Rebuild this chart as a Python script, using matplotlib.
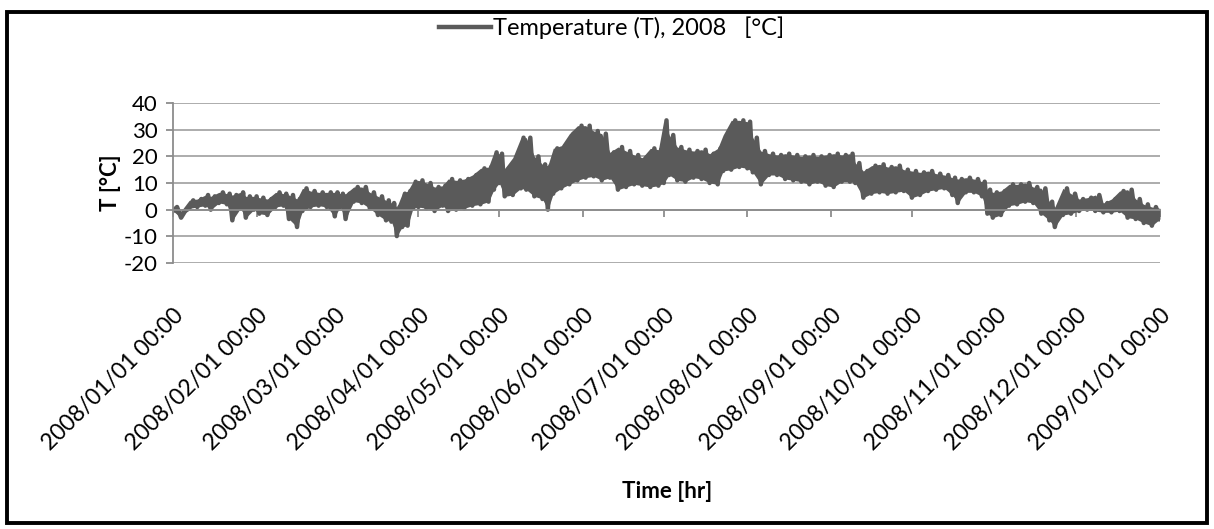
import numpy as np
import matplotlib.pyplot as plt
from matplotlib.patches import Rectangle
import datetime as dt

plt.rcParams['font.family'] = ['Lato', 'DejaVu Sans']
plt.rcParams['axes.unicode_minus'] = False

# day of year (0 = 2008/01/01 00:00), read off the chart as rough highs / lows
days = [0, 3, 6, 9, 12, 14, 17, 20, 22, 25, 27, 30, 32, 35, 38, 41, 43, 46, 48, 51, 54, 57, 60,
        62, 64, 67, 70, 73, 76, 79, 81, 83, 85, 87, 89, 91, 94, 97, 100, 102, 105, 108, 111, 114, 117, 119,
        121, 123, 126, 129, 131, 134, 137, 139, 141, 144, 147, 150, 153, 156, 159, 162, 165, 168, 171, 174, 177, 180, 182,
        184, 187, 190, 193, 196, 199, 202, 204, 207, 210, 213, 215, 218, 221, 224, 227, 230, 233, 236, 239, 242,
        245, 248, 251, 253, 256, 259, 262, 265, 268, 271, 274, 277, 280, 283, 286, 289, 291, 294, 297, 300, 302,
        304, 307, 310, 313, 316, 319, 322, 325, 327, 330, 333, 336, 339, 342, 345, 348, 351, 354, 357, 360, 363, 366]
t_high = [1.0, -0.5, 3.5, 4.0, 5.5, 5.0, 6.5, 6.0, 5.5, 6.5, 5.0, 5.0, 4.5, 4.0, 6.5, 6.0, 5.5, 4.0, 8.0, 7.0, 6.5, 6.5, 6.5,
          6.0, 6.0, 8.5, 8.5, 6.5, 5.0, 3.5, 2.5, 1.0, 6.0, 7.0, 10.5, 11.0, 10.0, 8.5, 9.0, 11.5, 11.0, 11.5, 13.0, 15.5, 16.0, 21.5,
          21.0, 15.5, 19.5, 27.0, 27.0, 20.0, 17.0, 16.5, 23.0, 24.0, 28.5, 31.5, 31.5, 29.5, 28.5, 21.5, 23.5, 22.0, 20.5, 19.5, 23.0, 22.5, 33.5,
          28.0, 23.5, 22.5, 22.0, 22.5, 21.0, 23.0, 28.0, 33.5, 33.5, 33.0, 27.0, 22.0, 21.0, 20.5, 21.0, 20.5, 20.0, 20.5, 20.0, 20.5,
          21.0, 20.5, 21.0, 17.5, 14.5, 16.5, 17.0, 16.0, 16.5, 15.0, 14.5, 14.0, 14.5, 13.5, 13.0, 12.0, 11.5, 12.0, 11.5, 10.5, 7.5,
          6.5, 7.0, 9.5, 9.5, 10.0, 8.5, 8.0, 3.0, 1.0, 8.0, 6.0, 4.0, 4.5, 5.5, 2.5, 4.0, 7.0, 7.5, 4.0, 2.0, 1.0, 0.5]
t_low = [-0.5, -3.0, 0.5, 1.0, 1.5, 0.0, 2.5, 2.0, -4.0, 0.5, -3.0, 0.0, -1.5, -2.0, 1.0, 1.5, -3.5, -6.5, -0.5, 1.0, 1.5, 1.0, -2.5,
         1.0, -3.5, 3.0, 2.5, 0.5, -2.0, -4.0, -4.5, -9.9, -6.5, -6.0, 0.5, 1.0, 0.5, -0.5, 1.5, -0.5, 0.0, 0.5, 1.5, 2.0, 3.0, 7.5,
         10.0, 5.0, 5.5, 8.0, 7.5, 5.0, 4.0, 0.0, 6.0, 8.0, 9.5, 11.0, 12.0, 12.5, 11.0, 12.0, 7.5, 8.5, 9.5, 9.0, 8.5, 9.0, 10.0,
         13.0, 11.0, 10.5, 12.0, 11.5, 10.0, 9.5, 14.5, 15.0, 16.0, 15.5, 14.0, 9.5, 13.0, 13.0, 11.5, 11.0, 10.5, 9.5, 10.5, 9.0,
         8.5, 10.5, 10.5, 10.0, 4.5, 6.0, 6.5, 6.0, 6.5, 7.0, 4.5, 5.5, 7.0, 7.5, 8.0, 5.5, 2.5, 6.5, 6.5, 5.0, -1.5,
         -3.0, -2.0, 1.5, 2.0, 3.0, 2.5, -1.5, -4.0, -6.5, -2.0, -1.5, -0.5, 0.0, -0.5, -1.0, -1.0, -0.5, -3.0, -3.5, -5.0, -6.0, -3.5]

month_ticks = ["2008/%02d/01 00:00" % m for m in range(1, 13)] + ["2009/01/01 00:00"]

start = dt.datetime(2008, 1, 1)
d = np.array(days, dtype=float)
hi = np.array(t_high)
lo = np.array(t_low)

# zigzag between the lows and highs, like the hourly trace
half = np.diff(d, append=d[-1] + 3) / 2
zx = np.ravel(np.column_stack([d, d + half]))[:-1]
zy = np.ravel(np.column_stack([lo, hi]))[:-1]
zt = [start + dt.timedelta(days=v) for v in zx]
ft = [start + dt.timedelta(days=v) for v in d]

col = '#5a5a5a'
fig = plt.figure(figsize=(12.14, 5.29), dpi=100)
ax = fig.add_axes([0.1425, 0.5028, 0.8130, 0.3025])

ax.fill_between(ft, lo, hi, color=col, lw=0)
ax.plot(zt, zy, color=col, lw=3.2, solid_joinstyle='round', label='Temperature (T), 2008   [°C]')

tick_dates = [dt.datetime.strptime(s, "%Y/%m/%d %H:%M") for s in month_ticks]
ax.set_xlim(tick_dates[0], tick_dates[-1])
ax.set_ylim(-20, 40)
ax.set_yticks(range(-20, 41, 10))
ax.yaxis.grid(True, color='#a6a6a6', lw=1.3)
ax.set_axisbelow(True)

for s in ['top', 'right']:
    ax.spines[s].set_visible(False)
ax.spines['left'].set_color('#8c8c8c')
ax.spines['left'].set_linewidth(1.3)
ax.spines['bottom'].set_position(('data', 0))
ax.spines['bottom'].set_color('#8c8c8c')
ax.spines['bottom'].set_linewidth(1.3)

ax.set_xticks(tick_dates)
ax.tick_params(axis='x', direction='out', length=5, width=1.3, color='#8c8c8c', labelbottom=False)
ax.tick_params(axis='y', direction='out', length=5, width=1.3, color='#8c8c8c', labelsize=16, pad=6)

sec = ax.secondary_xaxis('bottom')
sec.set_xticks(tick_dates)
sec.set_xticklabels(month_ticks, rotation=45, ha='right', rotation_mode='anchor', fontsize=16.5)
sec.tick_params(length=0, pad=30)
sec.spines['bottom'].set_visible(False)

ax.set_ylabel('T [°C]', fontsize=16, fontweight='bold', labelpad=2)
fig.text(0.5495, 0.07, 'Time [hr]', fontsize=16, fontweight='bold', ha='center', va='center')

fig.legend(loc='center', bbox_to_anchor=(0.504, 0.947), frameon=False, fontsize=17,
           handlelength=2.2, handletextpad=0.1)

fig.add_artist(Rectangle((0.006, 0.012), 0.988, 0.966, transform=fig.transFigure,
                         fill=False, ec='black', lw=2.8))

fig.savefig('out.png', dpi=100)
